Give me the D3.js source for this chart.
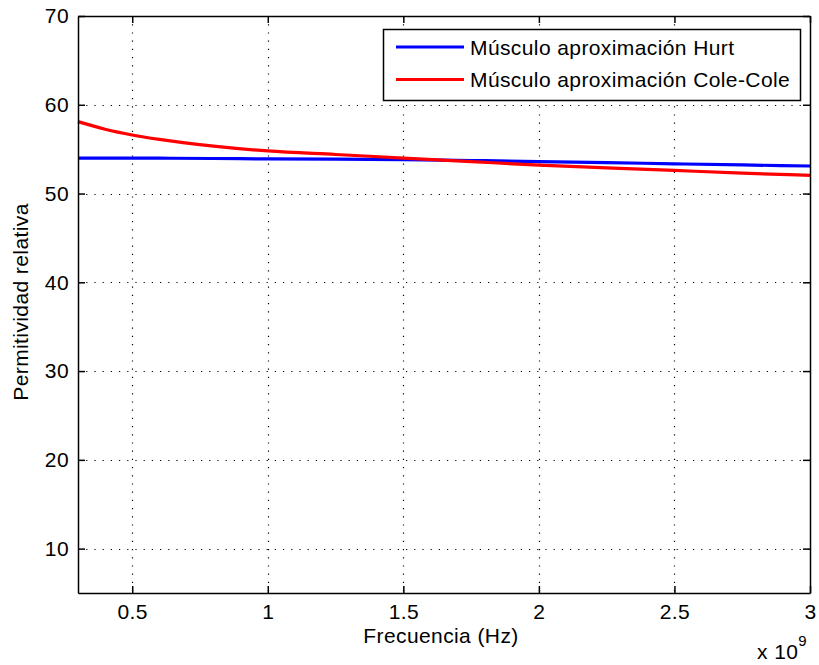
<!DOCTYPE html>
<html>
<head>
<meta charset="utf-8">
<script src="https://cdn.jsdelivr.net/npm/d3@7"></script>
<style>
  body { margin: 0; background: #fff; }
  text { font-family: "Liberation Sans", Arial, sans-serif; fill: #000; letter-spacing: 0.4px; }
</style>
</head>
<body>
<div id="chart"></div>
<script>
// DATA (frequency in units of 1e9 Hz)
const freq = [0.3, 0.4, 0.5, 0.6, 0.8, 1.0, 1.25, 1.5, 1.75, 2.0, 2.25, 2.5, 2.75, 3.0];
const hurt = [54.0, 54.0, 54.0, 53.98, 53.95, 53.9, 53.87, 53.82, 53.72, 53.6, 53.48, 53.35, 53.22, 53.1];
const coleCole = [58.1, 57.25, 56.6, 56.1, 55.35, 54.8, 54.4, 54.0, 53.6, 53.2, 52.9, 52.6, 52.3, 52.05];
const xTicks = [0.5, 1, 1.5, 2, 2.5, 3];
const yTicks = [10, 20, 30, 40, 50, 60, 70];
const seriesNames = ["Músculo aproximación Hurt", "Músculo aproximación Cole-Cole"];
const seriesColors = ["#0000ff", "#ff0000"];

// MARGIN CONVENTION
var MARGIN = { LEFT: 78, RIGHT: 9, TOP: 16, BOTTOM: 72 };
var W = 819, H = 665;
var PLOT = { WIDTH: W - MARGIN.LEFT - MARGIN.RIGHT, HEIGHT: H - MARGIN.TOP - MARGIN.BOTTOM };
const FONT = 21, TICK = 7;

const svg = d3.select("#chart").append("svg")
  .attr("width", W).attr("height", H);
const g = svg.append("g").attr("transform", `translate(${MARGIN.LEFT},${MARGIN.TOP})`);

// SCALES
const x = d3.scaleLinear().domain([0.3, 3]).range([0, PLOT.WIDTH]);
const y = d3.scaleLinear().domain([5, 70]).range([PLOT.HEIGHT, 0]);

// GRID (dotted)
g.append("g").selectAll("line").data(xTicks.filter(d => d < 3)).join("line")
  .attr("x1", d => Math.round(x(d)) + 0.5).attr("x2", d => Math.round(x(d)) + 0.5)
  .attr("y1", 0).attr("y2", PLOT.HEIGHT)
  .attr("stroke", "#000").attr("stroke-width", 1.2).attr("stroke-dasharray", "1.2,7");
g.append("g").selectAll("line").data(yTicks.filter(d => d < 70)).join("line")
  .attr("y1", d => Math.round(y(d)) + 0.5).attr("y2", d => Math.round(y(d)) + 0.5)
  .attr("x1", 0).attr("x2", PLOT.WIDTH)
  .attr("stroke", "#000").attr("stroke-width", 1.2).attr("stroke-dasharray", "1.2,7");

// DATA LINES
const line = d3.line().curve(d3.curveMonotoneX)
  .x((d, i) => x(freq[i])).y(d => y(d));
[hurt, coleCole].forEach((s, k) => {
  g.append("path").attr("d", line(s))
    .attr("fill", "none").attr("stroke", seriesColors[k]).attr("stroke-width", 3.2);
});

// AXES (box with inward ticks)
const axB = d3.axisBottom(x).tickValues(xTicks).tickSizeInner(-TICK).tickSizeOuter(0).tickPadding(11)
  .tickFormat(d3.format("~g"));
const axT = d3.axisTop(x).tickValues(xTicks).tickSizeInner(-TICK).tickSizeOuter(0).tickFormat("");
const axL = d3.axisLeft(y).tickValues(yTicks).tickSizeInner(-TICK).tickSizeOuter(0).tickPadding(9);
const axR = d3.axisRight(y).tickValues(yTicks).tickSizeInner(-TICK).tickSizeOuter(0).tickFormat("");

const gB = g.append("g").attr("transform", `translate(0,${PLOT.HEIGHT})`).call(axB);
const gT = g.append("g").call(axT);
const gL = g.append("g").call(axL);
const gR = g.append("g").attr("transform", `translate(${PLOT.WIDTH},0)`).call(axR);
[gB, gT, gL, gR].forEach(a => {
  a.selectAll("path").attr("stroke", "#000").attr("stroke-width", 1.5);
  a.selectAll("line").attr("stroke", "#000").attr("stroke-width", 1.5);
  a.selectAll("text").attr("font-size", FONT).attr("font-family", "Liberation Sans, Arial, sans-serif").attr("fill", "#000");
});

// LABELS
svg.append("text").text("Frecuencia (Hz)")
  .attr("x", 441).attr("y", 643).attr("text-anchor", "middle").attr("font-size", FONT);
svg.append("text").text("Permitividad relativa")
  .attr("transform", `translate(28,${302}) rotate(-90)`)
  .attr("text-anchor", "middle").attr("font-size", FONT);
const expo = svg.append("text").attr("x", 757).attr("y", 659).attr("font-size", FONT);
expo.append("tspan").text("x 10");
expo.append("tspan").text("9").attr("dy", -13).attr("font-size", 15);

// LEGEND
const leg = svg.append("g").attr("transform", "translate(383,29)");
leg.append("rect").attr("x", 0.5).attr("y", 0.5).attr("width", 417).attr("height", 71)
  .attr("fill", "#fff").attr("stroke", "#000").attr("stroke-width", 1.5);
seriesNames.forEach((name, k) => {
  const yy = 18 + k * 32.5;
  leg.append("line").attr("x1", 13).attr("x2", 81).attr("y1", yy).attr("y2", yy)
    .attr("stroke", seriesColors[k]).attr("stroke-width", 3.2);
  leg.append("text").text(name).attr("x", 87).attr("y", yy + 7.5).attr("font-size", FONT);
});
</script>
</body>
</html>
